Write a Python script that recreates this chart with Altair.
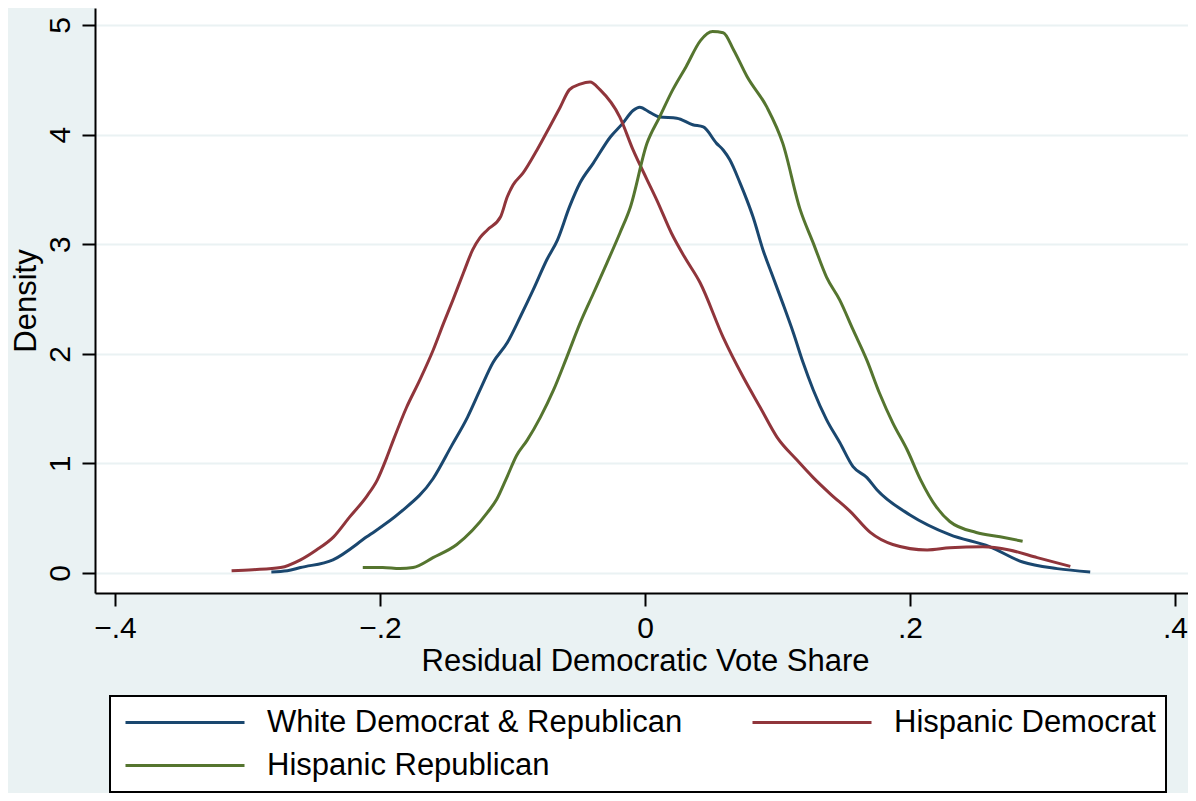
import altair as alt
import pandas as pd

# ---- data ----
series_names = ["White Democrat & Republican", "Hispanic Democrat", "Hispanic Republican"]
series_colors = ["#1A476F", "#90353B", "#55752F"]
# legend is laid out column by column: White, Hispanic Republican | Hispanic Democrat
legend_order = ["White Democrat & Republican", "Hispanic Republican", "Hispanic Democrat"]
legend_colors = ["#1A476F", "#55752F", "#90353B"]

white_x = [-0.282, -0.270, -0.260, -0.2355, -0.210, -0.185, -0.160, -0.146, -0.134, -0.1245,
           -0.1147, -0.104, -0.094, -0.0845, -0.074, -0.066, -0.057, -0.049, -0.039, -0.026,
           -0.017, -0.009, -0.004, 0.004, 0.011, 0.024, 0.036, 0.044, 0.054, 0.059,
           0.064, 0.0717, 0.077, 0.0815, 0.089, 0.0966, 0.104, 0.112, 0.1193, 0.127,
           0.137, 0.147, 0.157, 0.1675, 0.175, 0.200, 0.230, 0.260, 0.285, 0.311, 0.336]
white_y = [0.01, 0.02, 0.05, 0.12, 0.33, 0.55, 0.86, 1.16, 1.42, 1.67,
           1.92, 2.10, 2.34, 2.58, 2.86, 3.04, 3.34, 3.56, 3.74, 3.98,
           4.10, 4.22, 4.25, 4.20, 4.16, 4.15, 4.09, 4.07, 3.92, 3.86,
           3.77, 3.56, 3.40, 3.25, 2.95, 2.70, 2.46, 2.19, 1.92, 1.67,
           1.40, 1.19, 0.97, 0.87, 0.76, 0.53, 0.35, 0.24, 0.10, 0.04, 0.01]

hdem_x = [-0.312, -0.296, -0.275, -0.260, -0.248, -0.235, -0.223, -0.210, -0.202, -0.195,
          -0.190, -0.180, -0.170, -0.160, -0.152, -0.145, -0.137, -0.130, -0.1245, -0.119,
          -0.109, -0.104, -0.0996, -0.092, -0.0815, -0.072, -0.064, -0.057, -0.049, -0.0415,
          -0.034, -0.019, -0.009, 0.0015, 0.009, 0.020, 0.030, 0.0415, 0.059, 0.074,
          0.087, 0.0996, 0.1147, 0.127, 0.140, 0.155, 0.170, 0.187, 0.213, 0.230,
          0.255, 0.275, 0.296, 0.321]
hdem_y = [0.02, 0.03, 0.05, 0.12, 0.21, 0.33, 0.51, 0.70, 0.85, 1.05,
          1.21, 1.51, 1.76, 2.03, 2.28, 2.49, 2.74, 2.95, 3.06, 3.13,
          3.25, 3.43, 3.54, 3.65, 3.86, 4.07, 4.25, 4.41, 4.46, 4.48,
          4.41, 4.16, 3.86, 3.59, 3.40, 3.10, 2.88, 2.65, 2.15, 1.79,
          1.51, 1.24, 1.03, 0.87, 0.72, 0.56, 0.37, 0.26, 0.21, 0.23,
          0.24, 0.21, 0.14, 0.06]

hrep_x = [-0.213, -0.198, -0.185, -0.175, -0.160, -0.142, -0.119, -0.112, -0.104, -0.097,
          -0.089, -0.079, -0.069, -0.059, -0.049, -0.039, -0.0287, -0.019, -0.011, 0.0015,
          0.011, 0.021, 0.031, 0.042, 0.051, 0.059, 0.067, 0.077, 0.092, 0.104,
          0.117, 0.127, 0.137, 0.147, 0.157, 0.1675, 0.177, 0.187, 0.198, 0.208,
          0.220, 0.230, 0.250, 0.268, 0.285]
hrep_y = [0.05, 0.05, 0.04, 0.05, 0.14, 0.26, 0.55, 0.67, 0.88, 1.07,
          1.21, 1.42, 1.67, 1.97, 2.28, 2.55, 2.83, 3.10, 3.34, 3.92,
          4.16, 4.41, 4.62, 4.86, 4.94, 4.93, 4.77, 4.53, 4.25, 3.92,
          3.32, 3.01, 2.70, 2.49, 2.22, 1.94, 1.64, 1.37, 1.12, 0.85,
          0.60, 0.47, 0.37, 0.33, 0.29]

x_ticks = [-0.4, -0.2, 0.0, 0.2, 0.4]
y_ticks = [0, 1, 2, 3, 4, 5]

frames = []
for name, xs, ys in zip(series_names, [white_x, hdem_x, hrep_x], [white_y, hdem_y, hrep_y]):
    frames.append(pd.DataFrame({"x": xs, "y": ys, "series": name, "order": range(len(xs))}))
df = pd.concat(frames, ignore_index=True)

FONT = "Liberation Sans"
BG = "#EAF2F3"

chart = alt.Chart(df).mark_line(strokeWidth=3, interpolate="monotone").encode(
    x=alt.X("x:Q",
            scale=alt.Scale(domain=[-0.41509, 0.40981], nice=False, zero=False),
            axis=alt.Axis(values=x_ticks, title="Residual Democratic Vote Share",
                          labelExpr="datum.value == 0 ? '0' : replace(format(datum.value, '.1f'), '0.', '.')",
                          grid=False, tickSize=13, tickWidth=2, domainWidth=2,
                          labelFontSize=30, titleFontSize=31, titleX=550,
                          labelPadding=7, titlePadding=3)),
    y=alt.Y("y:Q",
            scale=alt.Scale(domain=[-0.1825, 5.155], nice=False, zero=False),
            axis=alt.Axis(values=y_ticks, title="Density", format="d",
                          grid=True, gridColor=BG, gridWidth=2,
                          tickSize=13, tickWidth=2, domainWidth=2,
                          labelFontSize=30, titleFontSize=31,
                          labelAngle=270, labelAlign="center", labelBaseline="alphabetic",
                          labelPadding=13, titlePadding=3)),
    color=alt.Color("series:N",
                    scale=alt.Scale(domain=legend_order, range=legend_colors),
                    sort=legend_order,
                    legend=alt.Legend(orient="none", legendX=15, legendY=688, columns=2,
                                      title=None, symbolType="stroke", symbolSize=14161,
                                      symbolStrokeWidth=3, symbolOffset=4,
                                      labelFontSize=31, labelFont=FONT,
                                      labelColor="black", labelOffset=21, columnPadding=64,
                                      rowPadding=10, padding=10, strokeColor="black",
                                      fillColor="white", labelLimit=700, clipHeight=33)),
    order="order:Q",
).properties(
    width=1093, height=585,
    background=BG,
    autosize=alt.AutoSizeParams(type="none"),
    padding={"left": 87, "top": 0, "right": 0, "bottom": 200},
).configure_view(
    fill="white", stroke=None
).configure_axis(
    labelFont=FONT, titleFont=FONT,
    labelColor="black", titleColor="black", domainColor="black", tickColor="black",
    titleFontWeight="normal",
).configure_legend(
    strokeWidth=2
)

chart.save("out.html", embed_options={"renderer": "svg", "actions": False})
